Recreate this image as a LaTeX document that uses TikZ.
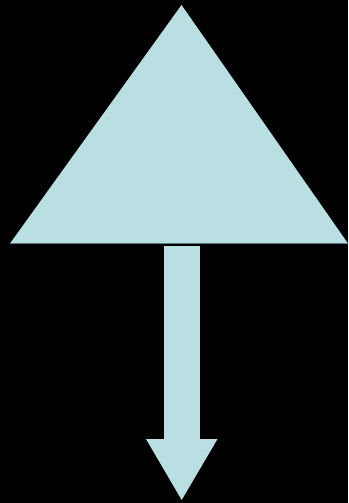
\documentclass[tikz,border=0pt]{standalone}
\definecolor{paleblue}{RGB}{185,223,227}
\definecolor{edgeteal}{RGB}{90,120,125}
\begin{document}
\begin{tikzpicture}[x=1pt,y=-1pt]
		\fill [black] (0,0) rectangle (348,503);
		\useasboundingbox (0,0) rectangle (348,503);

		\fill [paleblue] (181.5,5) -- (348,243.5) -- (10,243.5) -- cycle;
		\draw [edgeteal, line width=0.8pt] (10,243.8) -- (348,243.8);

		\fill [paleblue] (164,245.5) rectangle (199.5,439);
		\fill [paleblue] (146,439) -- (217.5,439) -- (181.7,500) -- cycle;

		\end{tikzpicture}
\end{document}
